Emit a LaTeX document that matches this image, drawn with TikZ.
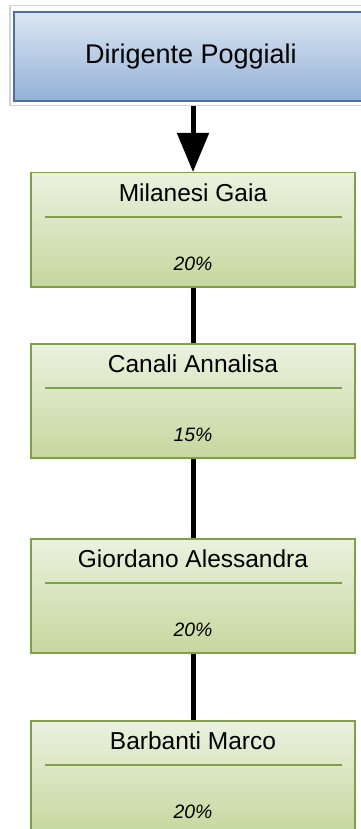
\documentclass[tikz,border=0pt]{standalone}
\usepackage{fontspec}
\setmainfont{Liberation Sans}
\usetikzlibrary{arrows.meta}
\definecolor{gborder}{HTML}{7F9F4B}
\definecolor{gtop}{HTML}{EBF1DF}
\definecolor{gbot}{HTML}{C5D89E}
\definecolor{btop}{HTML}{DCE6F2}
\definecolor{bbot}{HTML}{93B1D6}
\definecolor{bborder}{HTML}{4F6E9E}
\definecolor{bframe}{HTML}{C9D5E6}
\tikzset{
  person/.style={rectangle, draw=gborder, line width=1.5pt, top color=gtop, bottom color=gbot,
    minimum width=324pt, minimum height=114pt, inner sep=0pt, anchor=north},
  pname/.style={font=\fontsize{24.5}{28}\selectfont, inner sep=0pt},
  pct/.style={font=\fontsize{19.4}{22}\selectfont\itshape, inner sep=0pt},
  sepline/.style={draw=gborder, line width=1.3pt},
  conn/.style={line width=5pt, black},
}
\begin{document}
\begin{tikzpicture}[x=1pt,y=-1pt]
\useasboundingbox (0,0) rectangle (360,829);
% top box
\node[rectangle, draw=bframe, line width=1.2pt, minimum width=366pt, minimum height=100pt, anchor=north, inner sep=0pt] (dirframe) at (193,5) {};
\node[rectangle, draw=bborder, line width=1.8pt, top color=btop, bottom color=bbot, minimum width=358pt, minimum height=89pt, anchor=north, inner sep=0pt] (dir) at (193,11) {};
\node[font=\fontsize{27}{31}\selectfont, inner sep=0pt] (dirtext) at (191,57) {Dirigente Poggiali};
% persons
\foreach \id/\top/\name/\p in {b1/172/Milanesi Gaia/20\%, b2/343/Canali Annalisa/15\%, b3/538/Giordano Alessandra/20\%, b4/720/Barbanti Marco/20\%}{
  \node[person] (\id) at (193,\top) {};
  \node[pname] (\id name) at (193,\top+21) {\name};
  \draw[sepline] (45,\top+45) -- (342,\top+45);
  \node[pct] (\id pct) at (193,\top+92) {\p};
}
\draw[conn, -{Triangle[width=31pt,length=39pt]}] (dirframe.south) -- (b1.north);
\draw[conn] (b1.south) -- (b2.north);
\draw[conn] (b2.south) -- (b3.north);
\draw[conn] (b3.south) -- (b4.north);
\end{tikzpicture}
\end{document}
